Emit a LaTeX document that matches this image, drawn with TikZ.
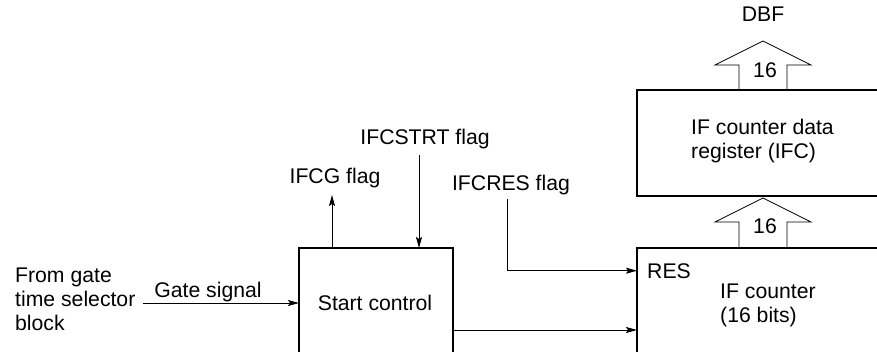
\documentclass[tikz,border=0pt]{standalone}
\usepackage{fontspec}
\setmainfont{Liberation Sans}
\usetikzlibrary{arrows.meta,calc,positioning}

\begin{document}
\begin{tikzpicture}[x=1pt,y=-1pt,
    block/.style={draw,line width=2.8pt,inner sep=0pt,outer sep=0pt,anchor=north west},
    txt/.style={inner sep=0pt,font=\fontsize{21.2}{24}\selectfont},
    sig/.style={line width=0.9pt,-{Stealth[length=11pt,width=6pt,inset=2pt]}},
    bus/.style={line width=0.8pt,line join=miter}]
    \clip (0,0) rectangle (877,351);
    %Bus arrows
    \coordinate (busx) at (763,0);
    \draw[bus] ([xshift=-24pt]busx |- 0,90) -- ++(0,-25) -- ++(-24,0) -- ++(48,-24) -- ++(48,24) -- ++(-24,0) -- ++(0,25);
    \draw[bus] ([xshift=-24pt]busx |- 0,248) -- ++(0,-26) -- ++(-24,0) -- ++(48,-24) -- ++(48,24) -- ++(-24,0) -- ++(0,26);
    %Blocks
    \node[block,minimum width=154pt,minimum height=170pt] (start) at (299,248) {};
    \node[block,minimum width=300pt,minimum height=170pt] (counter) at (637,248) {};
    \node[block,minimum width=300pt,minimum height=106pt] (ifc) at (637,90) {};
    %Texts
    \node[txt,anchor=base] (startlbl) at (375,310) {Start control};
    \node[txt,anchor=base west] (reslbl) at (647,278) {RES};
    \node[txt,anchor=base west,align=left] (cntlbl) at (720,322) {IF counter\\(16 bits)};
    \node[txt,anchor=base west,align=left] (ifclbl) at (691,158) {IF counter data\\register (IFC)};
    \node[txt,anchor=base] (dbf) at (763,21) {DBF};
    \node[txt,anchor=base] (bustop) at (765,77) {16};
    \node[txt,anchor=base] (buslow) at (765,233) {16};
    \node[txt,anchor=base west,align=left] (src) at (15,330) {From gate\\time selector\\block};
    \node[txt,anchor=base] (gatelbl) at (208,297) {Gate signal};
    \node[txt,anchor=base] (ifcg) at (335,183) {IFCG flag};
    \node[txt,anchor=base] (strt) at (425,144) {IFCSTRT flag};
    \node[txt,anchor=base] (ifcres) at (511,190) {IFCRES flag};
    %Signals
    \coordinate (gatesrc) at (143,303);
    \draw[sig] (gatesrc) -- (gatesrc -| start.west);
    \coordinate (flagout) at (332,195);
    \draw[sig] (flagout |- start.north) -- (flagout);
    \coordinate (strtin) at (419,155);
    \draw[sig] (strtin) -- (strtin |- start.north);
    \coordinate (resin) at (507,199);
    \draw[sig] (resin) |- (reslbl.west -| counter.west);
    \coordinate (cntin) at (453,330);
    \draw[sig] (cntin -| start.east) -- (cntin -| counter.west);
\end{tikzpicture}
\end{document}
